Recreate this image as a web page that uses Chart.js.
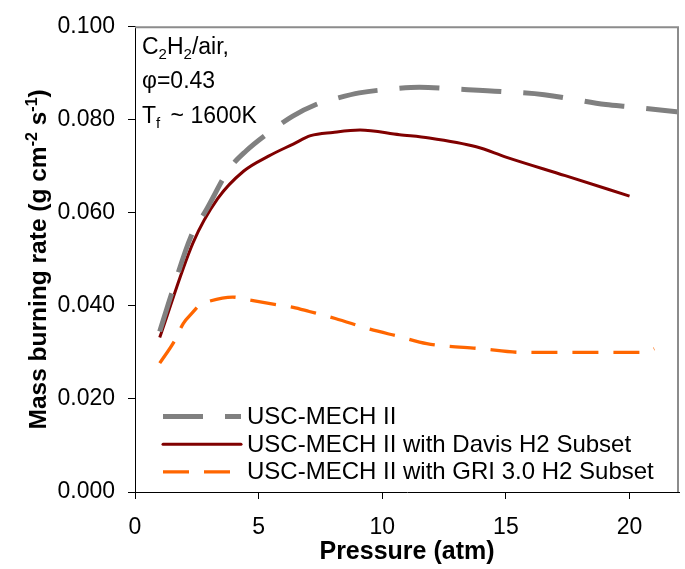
<!DOCTYPE html>
<html>
<head>
<meta charset="utf-8">
<script src="https://cdn.jsdelivr.net/npm/chart.js@4.4.1/dist/chart.umd.min.js"></script>
<style>
  html, body { margin: 0; padding: 0; background: #ffffff; }
  #c { display: block; }
</style>
</head>
<body>
<canvas id="c" width="685" height="569"></canvas>
<script>
// ---------- data ----------
const xTicks = [0, 5, 10, 15, 20];
const yTicks = [0.000, 0.020, 0.040, 0.060, 0.080, 0.100];

const seriesNames = [
  "USC-MECH II",
  "USC-MECH II with Davis H2 Subset",
  "USC-MECH II with GRI 3.0 H2 Subset"
];

const uscPressure = [1, 1.46, 2.27, 2.88, 3.82, 4.49, 5.4, 6.38, 7.32, 8.2, 9.07, 10.55, 11.5, 13.04, 14.8, 16.55, 19.04, 20, 22];
const uscRate     = [0.0345, 0.0423, 0.0550, 0.0606, 0.0695, 0.0733, 0.0772, 0.0808, 0.0833, 0.0847, 0.0858, 0.0867, 0.0870, 0.0866, 0.0861, 0.0854, 0.0833, 0.0828, 0.0817];

const davisPressure = [1, 2.35, 3.35, 4.4, 5.4, 6.4, 7.1, 8, 9.1, 10.7, 11.9, 13.8, 15, 17.4, 20];
const davisRate     = [0.0332, 0.0536, 0.0631, 0.0690, 0.0722, 0.0748, 0.0766, 0.0773, 0.0778, 0.0768, 0.0761, 0.0742, 0.0720, 0.0680, 0.0636];

const griPressure = [1, 1.6, 1.95, 2.35, 2.6, 3, 3.95, 4.6, 5.7, 6.4, 7.05, 8.1, 9.5, 10.7, 11.8, 14, 15.7, 17.5, 19.5, 20.6, 21];
const griRate     = [0.0277, 0.0325, 0.0362, 0.0387, 0.0401, 0.0410, 0.0419, 0.0413, 0.0403, 0.0397, 0.0388, 0.0373, 0.0350, 0.0334, 0.0319, 0.0308, 0.0300, 0.0300, 0.0300, 0.0300, 0.0308];

// ---------- helpers ----------
const FONT = "'Liberation Sans', Arial, Helvetica, sans-serif";
function pts(xs, ys) { return xs.map((x, i) => ({ x: x, y: ys[i] })); }

// draw a run of text pieces with sub/superscripts
function drawRuns(ctx, x, y, runs, size, weight, align) {
  const small = Math.round(size * 0.64);
  const fontOf = (r) => (weight ? weight + ' ' : '') + (r.sub || r.sup ? small : size) + 'px ' + FONT;
  const adv = (r) => { ctx.font = fontOf(r); return ctx.measureText(r.t).width + (r.gap || 0); };
  let total = 0;
  runs.forEach(r => { total += adv(r); });
  let cx = align === 'center' ? x - total / 2 : x;
  ctx.textAlign = 'left';
  ctx.textBaseline = 'alphabetic';
  runs.forEach(r => {
    ctx.font = fontOf(r);
    let dy = 0;
    if (r.sub) dy = size * 0.2;
    if (r.sup) dy = -size * 0.38;
    ctx.fillText(r.t, cx, y + dy);
    cx += adv(r);
  });
}

// ---------- plugins ----------
const framePlugin = {
  id: 'frame',
  afterDraw(chart) {
    const ctx = chart.ctx, a = chart.chartArea;
    ctx.save();
    ctx.strokeStyle = '#8c8c8c';
    ctx.lineWidth = 2;
    ctx.beginPath();
    ctx.moveTo(a.left, a.top + 0.5);
    ctx.lineTo(a.right - 1, a.top + 0.5);
    ctx.lineTo(a.right - 1, a.bottom);
    ctx.stroke();
    ctx.restore();
  }
};

const textPlugin = {
  id: 'texts',
  afterDraw(chart) {
    const ctx = chart.ctx, a = chart.chartArea;
    ctx.save();
    ctx.fillStyle = '#000';
    // annotation
    const ax = a.left + 7;
    drawRuns(ctx, ax, 54, [{t:'C'},{t:'2',sub:true},{t:'H'},{t:'2',sub:true},{t:'/air,'}], 23, '', 'left');
    drawRuns(ctx, ax, 88, [{t:'\u03C6=0.43'}], 23, '', 'left');
    drawRuns(ctx, ax, 123, [{t:'T'},{t:'f',sub:true, gap:4},{t:' ~ 1600K'}], 23, '', 'left');

    // x title
    drawRuns(ctx, (a.left + a.right) / 2, 559, [{t:'Pressure (atm)'}], 25, 'bold', 'center');

    // y title
    ctx.save();
    ctx.translate(46, (a.top + a.bottom) / 2);
    ctx.rotate(-Math.PI / 2);
    drawRuns(ctx, 0, 0, [{t:'Mass burning rate (g cm'},{t:'-2',sup:true},{t:' s'},{t:'-1',sup:true},{t:')'}], 24.5, 'bold', 'center');
    ctx.restore();

    // legend (inside plot, bottom-left)
    const lx0 = 163, lx1 = 241, tx = 247, base0 = 424, rowH = 27.7;
    chart.data.datasets.forEach((ds, i) => {
      const by = base0 + i * rowH;
      const ly = by - 7.5;
      ctx.save();
      ctx.strokeStyle = ds.borderColor;
      ctx.lineWidth = ds.borderWidth;
      ctx.setLineDash(ds.borderDash || []);
      ctx.lineCap = ds.borderDash && ds.borderDash.length ? 'butt' : 'round';
      ctx.beginPath();
      ctx.moveTo(lx0, ly);
      ctx.lineTo(lx1, ly);
      ctx.stroke();
      ctx.restore();
      ctx.fillStyle = '#000';
      drawRuns(ctx, tx, by, [{t: ds.label}], 24, '', 'left');
    });
    ctx.restore();
  }
};

// ---------- chart ----------
Chart.defaults.font.family = FONT;
Chart.defaults.color = '#000';

new Chart(document.getElementById('c'), {
  type: 'line',
  data: {
    datasets: [
      {
        label: seriesNames[0],
        data: pts(uscPressure, uscRate),
        borderColor: '#808080',
        borderWidth: 5,
        borderDash: [40, 22],
        cubicInterpolationMode: 'monotone'
      },
      {
        label: seriesNames[1],
        data: pts(davisPressure, davisRate),
        borderColor: '#800000',
        borderWidth: 3,
        cubicInterpolationMode: 'monotone'
      },
      {
        label: seriesNames[2],
        data: pts(griPressure, griRate),
        borderColor: '#ff6600',
        borderWidth: 3.3,
        borderDash: [26, 15],
        cubicInterpolationMode: 'monotone'
      }
    ]
  },
  options: {
    responsive: false,
    devicePixelRatio: 1,
    animation: false,
    events: [],
    layout: { padding: { top: 21, right: 6, left: 0, bottom: 0 } },
    elements: { point: { radius: 0 }, line: { fill: false, borderCapStyle: 'butt' } },
    plugins: { legend: { display: false }, tooltip: { enabled: false }, title: { display: false } },
    scales: {
      x: {
        type: 'linear',
        min: 0, max: 22,
        afterFit(s) { s.height = 77; },
        afterBuildTicks(s) { s.ticks = xTicks.map(v => ({ value: v })); },
        border: { display: true, color: '#000', width: 1 },
        grid: { display: true, drawOnChartArea: false, drawTicks: true, tickLength: 7, color: '#000' },
        ticks: { font: { size: 23 }, padding: 15, maxRotation: 0, callback: v => String(v) }
      },
      y: {
        type: 'linear',
        min: 0, max: 0.1,
        afterFit(s) { s.width = 135; },
        afterBuildTicks(s) { s.ticks = yTicks.map(v => ({ value: v })); },
        border: { display: true, color: '#000', width: 1 },
        grid: { display: true, drawOnChartArea: false, drawTicks: true, tickLength: 7, color: '#000' },
        ticks: { font: { size: 23 }, padding: 13, callback: v => Number(v).toFixed(3) }
      }
    }
  },
  plugins: [framePlugin, textPlugin]
});
</script>
</body>
</html>
